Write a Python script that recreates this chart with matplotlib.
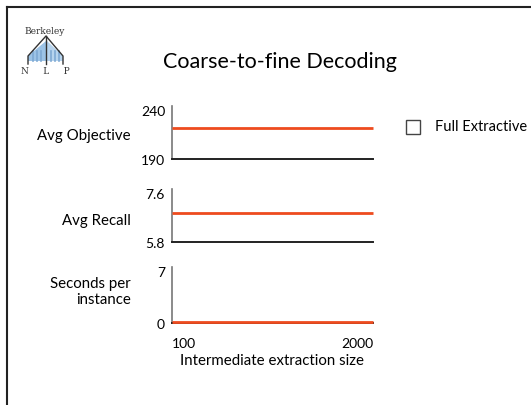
import matplotlib.pyplot as plt
from matplotlib.patches import Polygon, Rectangle
from matplotlib.lines import Line2D

plt.rcParams['font.family'] = ['Lato', 'DejaVu Sans']

sizes = [100, 2000]
objective = [221.5, 221.5]
recall = [6.88, 6.88]
seconds = [0.1, 0.1]

panel_labels = ['Avg Objective', 'Avg Recall', 'Seconds per\ninstance']
ylims = [(190, 240), (5.8, 7.6), (0, 7)]
ytick_labels = [('190', '240'), ('5.8', '7.6'), ('0', '7')]
series = [objective, recall, seconds]

red = '#EE4B1E'
W, H = 531, 406

fig = plt.figure(figsize=(5.31, 4.06), dpi=100)

# slide frame
fig.add_artist(Line2D([7 / W, 1], [1 - 8 / H, 1 - 8 / H], transform=fig.transFigure,
                      color='#222222', lw=1.5))
fig.add_artist(Line2D([7 / W, 7 / W], [0, 1 - 8 / H], transform=fig.transFigure,
                      color='#222222', lw=1.5))

# logo
fig.text(45 / W, 1 - 31 / H, 'Berkeley', family='DejaVu Serif', fontsize=6.5,
         ha='center', va='center', color='#333333')
fig.text(45 / W, 1 - 72 / H, 'N     L     P', family='DejaVu Serif', fontsize=6.5,
         ha='center', va='center', color='#333333')
fig.add_artist(Polygon([[28 / W, 1 - 62 / H], [28 / W, 1 - 57 / H], [46 / W, 1 - 42 / H],
                        [46 / W, 1 - 62 / H]], closed=True, transform=fig.transFigure,
                       facecolor='#9cc3e6', edgecolor='none'))
fig.add_artist(Polygon([[47 / W, 1 - 62 / H], [47 / W, 1 - 42 / H], [63 / W, 1 - 57 / H],
                        [63 / W, 1 - 62 / H]], closed=True, transform=fig.transFigure,
                       facecolor='#b7d4ee', edgecolor='none'))
for xb in [33, 37, 41, 51, 55, 59]:
    fig.add_artist(Line2D([xb / W, xb / W], [1 - 52 / H, 1 - 62 / H],
                          transform=fig.transFigure, color='#7fa9d3', lw=1.2))
fig.add_artist(Line2D([28 / W, 28 / W, 46 / W, 63 / W, 63 / W],
                      [1 - 65 / H, 1 - 57 / H, 1 - 37 / H, 1 - 57 / H, 1 - 65 / H],
                      transform=fig.transFigure, color='#333333', lw=1))
fig.add_artist(Line2D([46 / W, 46 / W], [1 - 37 / H, 1 - 65 / H],
                      transform=fig.transFigure, color='#333333', lw=1))

fig.text(280 / W, 1 - 62 / H, 'Coarse-to-fine Decoding', fontsize=15.5,
         ha='center', va='center', color='black')

# panels: (top, bottom) in pixels
boxes = [(111, 160), (194, 243), (272, 324)]
label_y = [136, 221, 292]
left, right = 172, 373

for i, (top, bot) in enumerate(boxes):
    ax = fig.add_axes([left / W, 1 - bot / H, (right - left) / W, (bot - top) / H])
    ax.plot(sizes, series[i], color=red, lw=2, solid_capstyle='butt', clip_on=False,
            zorder=5)
    ax.set_xlim(sizes[0], sizes[-1])
    ax.set_ylim(*ylims[i])
    ax.spines['top'].set_visible(False)
    ax.spines['right'].set_visible(False)
    ax.spines['left'].set_color('#777777')
    ax.spines['left'].set_linewidth(1.2)
    ax.spines['left'].set_bounds(ylims[i][0], ylims[i][1] + (ylims[i][1] - ylims[i][0]) * 0.08)
    ax.spines['bottom'].set_color('#222222')
    ax.spines['bottom'].set_linewidth(1.4)
    ax.set_yticks(ylims[i])
    ax.set_yticklabels(ytick_labels[i], fontsize=10)
    ax.tick_params(axis='y', length=0, pad=5)
    if i < 2:
        ax.set_xticks([])
    else:
        ax.set_xticks(sizes)
        ax.set_xticklabels([str(s) for s in sizes], fontsize=10)
        ax.tick_params(axis='x', length=0, pad=10)
        tl = ax.get_xticklabels()
        tl[0].set_ha('left')
        tl[1].set_ha('right')
        ax.set_xlabel('Intermediate extraction size', fontsize=10.8, labelpad=3)
    fig.text(131 / W, 1 - label_y[i] / H, panel_labels[i], fontsize=10.8,
             ha='right', va='center', linespacing=1.25)

# legend
fig.add_artist(Rectangle((406 / W, 1 - 135 / H), 14 / W, 14 / H, transform=fig.transFigure,
                         facecolor='white', edgecolor='#444444', lw=1))
fig.text(435 / W, 1 - 127 / H, 'Full Extractive', fontsize=10.5, ha='left', va='center')

fig.savefig('out.png', dpi=100)
